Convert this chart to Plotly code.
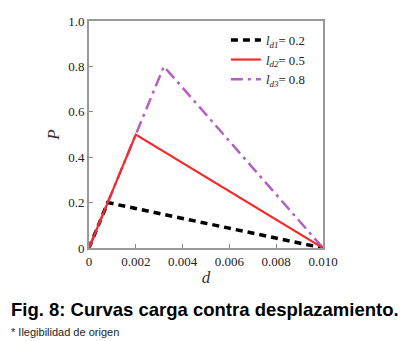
import plotly.graph_objects as go

d_black = [0, 0.0008, 0.0100]
p_black = [0, 0.2, 0]
d_red = [0, 0.0020, 0.0100]
p_red = [0, 0.5, 0]
d_purple = [0, 0.0032, 0.0100]
p_purple = [0, 0.8, 0]

names = ["<i>l</i><sub><i>d1</i></sub>= 0.2", "<i>l</i><sub><i>d2</i></sub>= 0.5", "<i>l</i><sub><i>d3</i></sub>= 0.8"]
x_ticks = [0, 0.002, 0.004, 0.006, 0.008, 0.010]
x_tick_text = ["0", "0.002", "0.004", "0.006", "0.008", "0.010"]
y_ticks = [0, 0.2, 0.4, 0.6, 0.8, 1.0]
y_tick_text = ["0", "0.2", "0.4", "0.6", "0.8", "1.0"]

fig = go.Figure()
fig.add_trace(go.Scatter(x=d_black, y=p_black, mode="lines", name=names[0], legendrank=1,
                         line=dict(color="black", width=3.5, dash="7px,5px")))
fig.add_trace(go.Scatter(x=d_purple, y=p_purple, mode="lines", name=names[2], legendrank=3,
                         line=dict(color="#b35fc4", width=2.5, dash="12px,5px,3px,5px")))
fig.add_trace(go.Scatter(x=d_red, y=p_red, mode="lines", name=names[1], legendrank=2,
                         line=dict(color="#f52a2a", width=2.2)))

serif = "Liberation Serif"
fig.update_layout(
    width=401, height=333,
    margin=dict(l=81, r=86, t=6, b=93),
    paper_bgcolor="white", plot_bgcolor="white",
    showlegend=True,
    legend=dict(x=0.585, y=0.982, xanchor="left", yanchor="top",
                bgcolor="rgba(0,0,0,0)", font=dict(family=serif, size=12.8, color="#222"),
                traceorder="normal", itemwidth=30, tracegroupgap=0),
    font=dict(family=serif, color="#333"),
)
fig.update_xaxes(range=[0, 0.0100], tickvals=x_ticks, ticktext=x_tick_text,
                 showgrid=False, zeroline=False, showline=True, linecolor="#999", linewidth=2,
                 mirror=True, ticks="inside", ticklen=4, tickcolor="#888",
                 tickfont=dict(family=serif, size=13, color="#222"),
                 title=dict(text="<i>d</i>", font=dict(family=serif, size=17, color="#333"), standoff=4))
fig.update_yaxes(range=[0, 1.0], tickvals=y_ticks, ticktext=y_tick_text,
                 showgrid=False, zeroline=False, showline=True, linecolor="#999", linewidth=2,
                 mirror=True, ticks="inside", ticklen=4, tickcolor="#888",
                 tickfont=dict(family=serif, size=13, color="#222"),
                 title=dict(text="<i>P</i>", font=dict(family=serif, size=17, color="#333"), standoff=4))

fig.add_annotation(text="<b>Fig. 8: Curvas carga contra desplazamiento.</b>",
                   xref="paper", yref="paper", x=-0.344, y=-0.27, xanchor="left", yanchor="middle",
                   showarrow=False, font=dict(family="Liberation Sans", size=18.5, color="black"))
fig.add_annotation(text="* Ilegibilidad de origen",
                   xref="paper", yref="paper", x=-0.344, y=-0.369, xanchor="left", yanchor="middle",
                   showarrow=False, font=dict(family="Liberation Sans", size=11, color="#222"))

fig.write_html("out.html")
